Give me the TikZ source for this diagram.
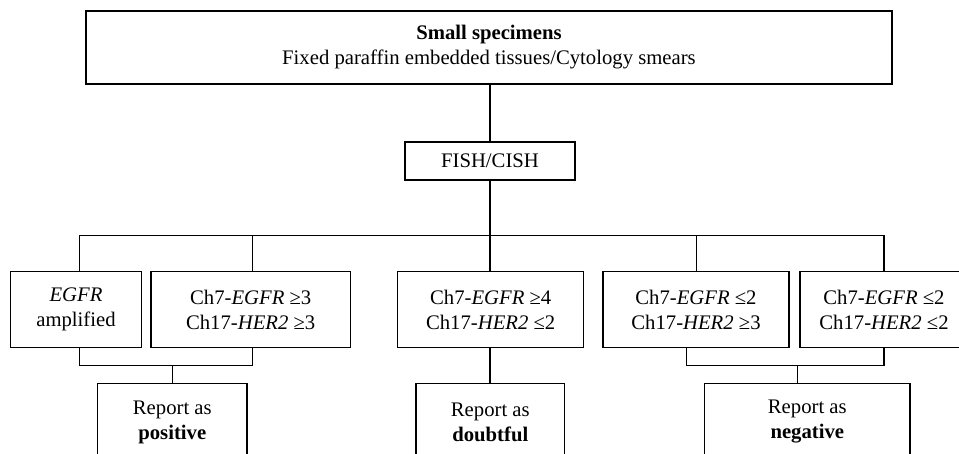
\documentclass[tikz,border=0pt]{standalone}
\usepackage{fontspec}
\setmainfont{Liberation Serif}

\begin{document}
\begin{tikzpicture}[x=1pt, y=-1pt, line width=1.3pt,
    box/.style={draw, rectangle, inner sep=0pt, align=center,
                font=\fontsize{20.7}{25}\selectfont},
    fishbox/.style={box, minimum width=170pt, minimum height=38pt},
    cond/.style={box, minimum height=75.5pt},
    report/.style={box, minimum height=77.4pt}]
\useasboundingbox (0,0) rectangle (959,454);
\clip (0,0) rectangle (959,454);

% top and test
\node[box, minimum width=806pt, minimum height=73pt] (spec) at (489,47.5)
  {\textbf{Small specimens}\\Fixed paraffin embedded tissues/Cytology smears};
\node[fishbox] (fish) at (490,161) {FISH/CISH};

% results
\node[cond, minimum width=130.6pt] (amp)   at (76,309.5)    {\textit{EGFR}\\amplified};
\node[cond, minimum width=199.3pt] (gege)  at (250.7,309.5) {Ch7-\textit{EGFR} ≥3\\Ch17-\textit{HER2} ≥3};
\node[cond, minimum width=186pt]   (gele)  at (490.7,309.5) {Ch7-\textit{EGFR} ≥4\\Ch17-\textit{HER2} ≤2};
\node[cond, minimum width=186pt]   (lege)  at (696,309.5)   {Ch7-\textit{EGFR} ≤2\\Ch17-\textit{HER2} ≥3};
\node[cond, minimum width=168pt]   (lele)  at (884,309.5)   {Ch7-\textit{EGFR} ≤2\\Ch17-\textit{HER2} ≤2};

% reports
\node[report, minimum width=149.3pt] (pos) at (172.3,422) {Report as\\\textbf{positive}};
\node[report, minimum width=148.7pt] (dbt) at (490.3,422) {Report as\\\textbf{doubtful}};
\node[report, minimum width=205.3pt] (neg) at (807.3,422) {Report as\\\textbf{negative}};

\coordinate (split) at (490,235.7);
\coordinate (join) at (490,365.7);

\draw (fish.north) -- (fish.north |- spec.south);
\draw (fish.south) -- (split);
\draw ([xshift=3.3pt]amp.north) |- (lele.north |- split) -- (lele.north);
\foreach \n/\dx in {gege/1.6, gele/-0.7, lege/0.7}
  \draw ([xshift=\dx pt]\n.north) -- ([xshift=\dx pt]\n.north |- split);

\draw ([xshift=3.3pt]amp.south) |- ([xshift=1.6pt]gege.south |- join) -- ([xshift=1.6pt]gege.south);
\draw (pos.north) -- (pos.north |- join);
\draw ([xshift=-0.7pt]gele.south) -- ([xshift=-0.7pt]gele.south |- dbt.north);
\draw ([xshift=-9.3pt]lege.south) |- (lele.south |- join) -- (lele.south);
\draw ([xshift=-9.6pt]neg.north) -- ([xshift=-9.6pt]neg.north |- join);
\end{tikzpicture}
\end{document}
